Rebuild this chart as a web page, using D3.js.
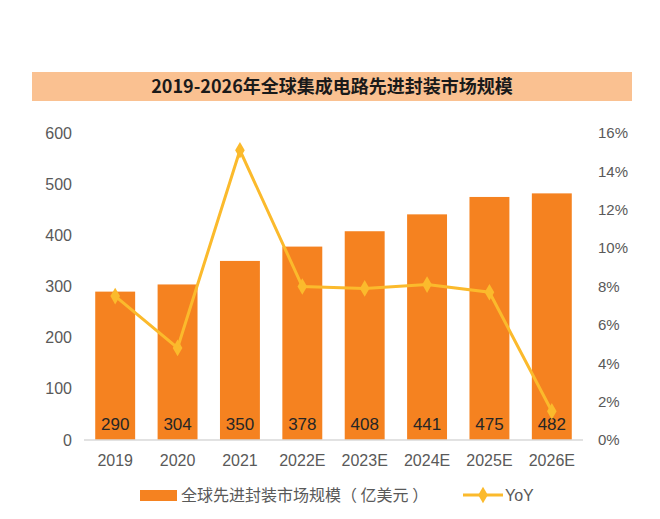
<!DOCTYPE html>
<html>
<head>
<meta charset="utf-8">
<script src="https://cdn.jsdelivr.net/npm/d3@7"></script>
<style>
body { margin: 0; background: #fff; }
text { font-family: "Liberation Sans", Arial, sans-serif; }
</style>
</head>
<body>
<div id="chart"></div>
<script>
// data
let years = ["2019", "2020", "2021", "2022E", "2023E", "2024E", "2025E", "2026E"];
let marketSize = [290, 304, 350, 378, 408, 441, 475, 482];
let yoy = [7.5, 4.8, 15.1, 8.0, 7.9, 8.1, 7.7, 1.5];
let leftTicks = [0, 100, 200, 300, 400, 500, 600];
let rightTicks = [0, 2, 4, 6, 8, 10, 12, 14, 16];

let width = 660, height = 519;
let svg = d3.select("#chart").append("svg")
    .attr("width", width)
    .attr("height", height);

// title band
svg.append("rect")
    .attr("x", 32).attr("y", 72)
    .attr("width", 600).attr("height", 29)
    .attr("fill", "#FAC191");
svg.append("text")
    .attr("x", 332).attr("y", 93)
    .attr("text-anchor", "middle")
    .style("font-family", "'Noto Sans CJK SC', sans-serif")
    .style("font-size", "18px")
    .style("font-weight", "bold")
    .style("fill", "#1a1a1a")
    .text("2019-2026年全球集成电路先进封装市场规模");

let x = d3.scaleBand()
    .domain(years)
    .range([84, 583])
    .paddingInner(0.36)
    .paddingOuter(0.18);

let y = d3.scaleLinear().domain([0, 600]).range([440, 133]);
let y2 = d3.scaleLinear().domain([0, 16]).range([440, 133]);

// left axis
let leftAxis = svg.append("g")
    .attr("transform", "translate(72,0)")
    .call(d3.axisLeft(y).tickValues(leftTicks).tickSize(0).tickPadding(0));
leftAxis.select(".domain").remove();
leftAxis.selectAll("text")
    .style("font-size", "16px")
    .style("fill", "#595959");

// right axis
let rightAxis = svg.append("g")
    .attr("transform", "translate(598,0)")
    .call(d3.axisRight(y2).tickValues(rightTicks).tickSize(0).tickPadding(0)
        .tickFormat(d => d + "%"));
rightAxis.select(".domain").remove();
rightAxis.selectAll("text")
    .style("font-family", "'Liberation Sans Narrow', 'Liberation Sans', sans-serif")
    .style("font-size", "15px")
    .style("fill", "#595959");

// bars
svg.selectAll(".bar")
    .data(marketSize)
    .enter().append("rect")
    .attr("class", "bar")
    .attr("x", (d, i) => x(years[i]))
    .attr("y", d => y(d))
    .attr("width", x.bandwidth())
    .attr("height", d => y(0) - y(d))
    .attr("fill", "#F58220");

// baseline
svg.append("line")
    .attr("x1", 84).attr("x2", 583)
    .attr("y1", y(0)).attr("y2", y(0))
    .attr("stroke", "#d9d9d9")
    .attr("stroke-width", 1.5);

// bar labels
svg.selectAll(".blabel")
    .data(marketSize)
    .enter().append("text")
    .attr("class", "blabel")
    .attr("x", (d, i) => x(years[i]) + x.bandwidth() / 2)
    .attr("y", 430)
    .attr("text-anchor", "middle")
    .style("font-size", "17px")
    .style("fill", "#262626")
    .text(d => d);

// x axis labels
let xAxis = svg.append("g")
    .attr("transform", "translate(0,452)")
    .call(d3.axisBottom(x).tickSize(0).tickPadding(0));
xAxis.select(".domain").remove();
xAxis.selectAll("text")
    .attr("dy", "0.9em")
    .style("font-size", "16px")
    .style("fill", "#595959");

// yoy line
let line = d3.line()
    .x((d, i) => x(years[i]) + x.bandwidth() / 2)
    .y(d => y2(d));
svg.append("path")
    .datum(yoy)
    .attr("d", line)
    .attr("fill", "none")
    .attr("stroke", "#FBBA2C")
    .attr("stroke-width", 3);

let diamond = d3.symbol().type(d3.symbolDiamond).size(80);
svg.selectAll(".pt")
    .data(yoy)
    .enter().append("path")
    .attr("class", "pt")
    .attr("d", diamond)
    .attr("transform", (d, i) => "translate(" + (x(years[i]) + x.bandwidth() / 2) + "," + y2(d) + ")")
    .attr("fill", "#FBBA2C");

// legend
let lg = svg.append("g");
lg.append("rect")
    .attr("x", 140).attr("y", 490)
    .attr("width", 37).attr("height", 11)
    .attr("fill", "#F58220");
lg.append("text")
    .attr("x", 181).attr("y", 501)
    .style("font-family", "'Noto Sans CJK SC', sans-serif")
    .style("font-size", "16px")
    .style("fill", "#595959")
    .text("全球先进封装市场规模（ 亿美元 ）");
lg.append("line")
    .attr("x1", 463).attr("x2", 503)
    .attr("y1", 495).attr("y2", 495)
    .attr("stroke", "#FBBA2C")
    .attr("stroke-width", 3);
lg.append("path")
    .attr("d", diamond)
    .attr("transform", "translate(483,495)")
    .attr("fill", "#FBBA2C");
lg.append("text")
    .attr("x", 505).attr("y", 501)
    .style("font-size", "16px")
    .style("fill", "#595959")
    .text("YoY");
</script>
</body>
</html>
